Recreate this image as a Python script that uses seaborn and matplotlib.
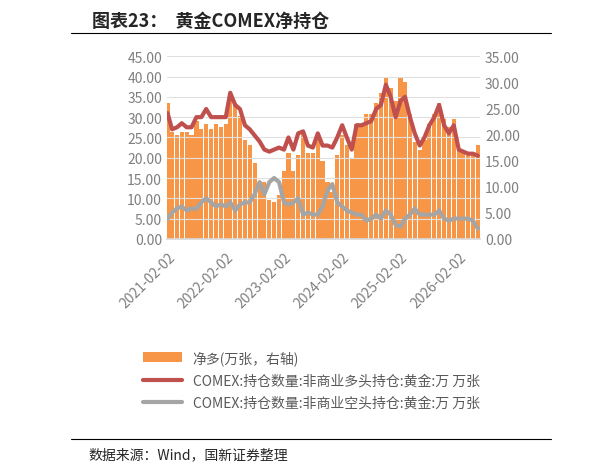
import numpy as np
import pandas as pd
import matplotlib
matplotlib.use("Agg")
import matplotlib.pyplot as plt
import matplotlib.dates as mdates
import seaborn as sns

sns.set_theme(style="white")
plt.rcParams['font.family'] = ['Noto Sans CJK SC', 'DejaVu Sans']

dates = pd.date_range("2021-02-01", periods=65, freq="MS")
long_pos = [31, 27, 27.5, 28.5, 27.5, 27.5, 30, 30, 32, 30, 30, 30, 30, 36, 33, 32, 28, 27, 25.5, 24,
            22, 21.5, 22, 22.5, 22, 25, 22, 26, 26.5, 23, 22.5, 26, 23, 23, 22.5, 25, 28, 25, 22, 28,
            28, 28.5, 29, 32, 33, 38, 35, 30, 34, 35, 30, 26, 23, 25, 28, 30, 33, 28, 26, 28,
            22, 21.5, 21, 21, 20.5]
short_pos = [5, 6.5, 7.5, 8, 7, 7.5, 7.5, 9, 10, 9, 8, 8.5, 8, 9, 7, 8.5, 9, 9, 11, 14,
             11, 14, 15, 14, 9, 8.5, 9, 10, 6, 6.5, 6, 6, 8, 12, 13.5, 9, 8, 7, 6.5, 6,
             6, 4.5, 5, 6, 5, 7, 6, 3.5, 3, 5, 6, 7.5, 6, 6, 6, 6, 7, 5, 4.5, 5,
             5, 5, 5, 4.5, 2.5]
net_pos = [26, 20.5, 20, 20.5, 20.5, 20, 22.5, 21, 22, 21, 22, 21.5, 22, 27, 26, 23.5, 19, 18, 14.5, 10,
           11, 7.5, 7, 8.5, 13, 16.5, 13, 16, 20.5, 16.5, 16.5, 20, 15, 11, 9, 16, 20, 18, 15.5, 22,
           22, 24, 24, 26, 28, 31, 29, 26.5, 31, 30, 24, 18.5, 17, 19, 22, 24, 26, 23, 21.5, 23,
           17, 16.5, 16, 16.5, 18]
left_ticks = np.arange(0, 46, 5)
right_ticks = np.arange(0, 36, 5)
xtick_labels = ["2021-02-02", "2022-02-02", "2023-02-02", "2024-02-02", "2025-02-02", "2026-02-02"]

df = pd.DataFrame({"date": dates, "long": long_pos, "short": short_pos, "net": net_pos})

fig = plt.figure(figsize=(5.92, 4.77), dpi=100)
ax = fig.add_axes([0.282, 0.497, 0.529, 0.383])
ax2 = ax.twinx()
ax.set_zorder(2); ax.patch.set_visible(False)

ax2.bar(df["date"], df["net"], width=26, color="#F79646", edgecolor="none", label="净多(万张，右轴)")
sns.lineplot(data=df, x="date", y="long", ax=ax, color="#C0504D", lw=3, label="COMEX:持仓数量:非商业多头持仓:黄金:万 万张")
sns.lineplot(data=df, x="date", y="short", ax=ax, color="#A5A5A5", lw=3, label="COMEX:持仓数量:非商业空头持仓:黄金:万 万张")

ax.set_ylim(0, 45); ax2.set_ylim(0, 35)
ax.set_yticks(left_ticks); ax2.set_yticks(right_ticks)
ax.set_yticklabels([f"{v:.2f}" for v in left_ticks])
ax2.set_yticklabels([f"{v:.2f}" for v in right_ticks])
ax.set_xlim(pd.Timestamp("2021-01-28"), pd.Timestamp("2026-06-15"))
ax.set_xticks(pd.to_datetime(xtick_labels))
ax.set_xticklabels(xtick_labels, rotation=45, ha="right", rotation_mode="anchor")
ax.set_xlabel(""); ax.set_ylabel("")
for a in (ax, ax2):
    a.tick_params(colors="#7F7F7F", labelsize=10, length=0)
    for s in a.spines.values():
        s.set_visible(False)
ax.spines["bottom"].set_visible(True); ax.spines["bottom"].set_color("#D9D9D9")
ax.tick_params(axis="x", length=4, color="#D9D9D9", labelcolor="#7F7F7F")
ax.grid(axis="y", color="#E0E0E0", lw=0.8)
ax2.grid(False)

h1, l1 = ax2.get_legend_handles_labels()
h2, l2 = ax.get_legend_handles_labels()
ax.get_legend().remove()
fig.legend(h1 + h2, l1 + l2, loc="upper left", bbox_to_anchor=(0.22, 0.29), frameon=False,
           fontsize=10, labelcolor="#595959", handlelength=2.8, labelspacing=0.6)

fig.text(0.155, 0.955, "图表23：  黄金COMEX净持仓", fontsize=13, fontweight="bold", style="italic", va="center")
fig.add_artist(plt.Line2D([0.12, 0.93], [0.928, 0.928], color="black", lw=0.8))
fig.add_artist(plt.Line2D([0.12, 0.93], [0.078, 0.078], color="black", lw=0.8))
fig.text(0.15, 0.045, "数据来源：Wind，国新证券整理", fontsize=10, va="center")
fig.savefig("out.png", dpi=100)
